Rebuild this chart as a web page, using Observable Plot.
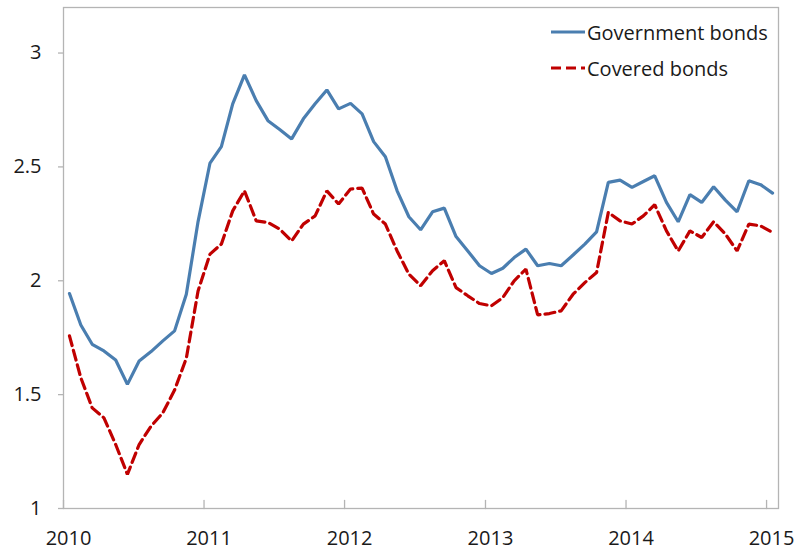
<!DOCTYPE html>
<html>
<head>
<meta charset="utf-8">
<script src="https://cdn.jsdelivr.net/npm/d3@7"></script>
<script src="https://cdn.jsdelivr.net/npm/@observablehq/plot@0.6"></script>
<style>
  html, body { margin: 0; padding: 0; background: #fff; }
  #wrap { position: relative; width: 798px; height: 550px; font-family: "Open Sans", sans-serif; }
  #legend { position: absolute; left: 551px; top: 14px; font-size: 20px; color: #1a1a1a; }
  .row { display: flex; align-items: center; height: 36px; }
  .row svg { margin-right: 2px; }
</style>
</head>
<body>
<div id="wrap"><div id="legend"></div></div>
<script>
// Monthly observations, Jan 2010 – Jan 2015
const startMonth = "2010-01";
const endMonth = "2015-02";
const series = ["Government bonds", "Covered bonds"];
const govBonds = [
  1.944, 1.806, 1.721, 1.692, 1.652, 1.545, 1.648, 1.689, 1.736, 1.780, 1.941, 2.260,
  2.517, 2.589, 2.777, 2.904, 2.791, 2.703, 2.664, 2.623, 2.711, 2.777, 2.838, 2.755,
  2.779, 2.733, 2.611, 2.545, 2.395, 2.281, 2.224, 2.303, 2.319, 2.194, 2.131, 2.066,
  2.032, 2.055, 2.102, 2.139, 2.066, 2.076, 2.066, 2.113, 2.161, 2.215, 2.432, 2.442,
  2.410, 2.436, 2.461, 2.344, 2.259, 2.378, 2.344, 2.413, 2.354, 2.303, 2.439, 2.422,
  2.385
];
const coveredBonds = [
  1.758, 1.574, 1.442, 1.398, 1.281, 1.150, 1.281, 1.362, 1.420, 1.520, 1.660, 1.955,
  2.117, 2.161, 2.307, 2.395, 2.263, 2.256, 2.227, 2.175, 2.249, 2.285, 2.395, 2.337,
  2.403, 2.407, 2.293, 2.249, 2.131, 2.029, 1.978, 2.044, 2.088, 1.970, 1.934, 1.900,
  1.890, 1.926, 2.000, 2.051, 1.850, 1.856, 1.868, 1.941, 1.992, 2.036, 2.300, 2.263,
  2.249, 2.285, 2.334, 2.219, 2.131, 2.219, 2.190, 2.259, 2.205, 2.131, 2.249, 2.241,
  2.212
];
const yTicks = [1, 1.5, 2, 2.5, 3];
const yDomain = [1, 3.2];
const xTickYears = ["2010", "2011", "2012", "2013", "2014", "2015"];

const parseMonth = d3.utcParse("%Y-%m");
const parseYear = d3.utcParse("%Y");
const months = d3.utcMonth.range(parseMonth(startMonth), parseMonth(endMonth));
const data = months.map((m, i) => ({ date: m, gov: govBonds[i], cov: coveredBonds[i] }));
const years = xTickYears.map(parseYear);
// Excel places each monthly point in the middle of its month
const mid = d => new Date((+d + +d3.utcMonth.offset(d, 1)) / 2);

const blue = "#4a7eb0";
const red = "#c00000";
const grey = "#b4b4b4";

const chart = Plot.plot({
  width: 798,
  height: 550,
  marginLeft: 63,
  marginTop: 7,
  marginRight: 20,
  marginBottom: 42,
  style: { fontFamily: "Open Sans, sans-serif", fontSize: "20px", color: "#1a1a1a", background: "#fff" },
  x: { type: "utc", domain: [parseMonth(startMonth), parseMonth(endMonth)] },
  y: { domain: yDomain },
  marks: [
    Plot.frame({ stroke: grey, strokeWidth: 1.3 }),
    Plot.axisY(yTicks, { tickSize: 5, tickPadding: 17, stroke: grey, strokeWidth: 1.3, tickFormat: d => String(d), label: null, fill: "#1a1a1a", fontSize: 20 }),
    Plot.axisX(years, { tickSize: 0, tickPadding: 22, dx: 5, tickFormat: d3.utcFormat("%Y"), label: null, fill: "#1a1a1a", fontSize: 20 }),
    Plot.vector(years, { x: d => d, y: yDomain[0], length: 8, rotate: 0, anchor: "start", stroke: grey, strokeWidth: 1.3,
      shape: { draw(context, l) { context.moveTo(0, 0); context.lineTo(0, -l); } } }),
    Plot.line(data, { x: d => mid(d.date), y: "gov", stroke: blue, strokeWidth: 3.2, strokeLinejoin: "miter" }),
    Plot.line(data, { x: d => mid(d.date), y: "cov", stroke: red, strokeWidth: 3.2, strokeDasharray: "10,5", strokeLinejoin: "miter" })
  ]
});
document.getElementById("wrap").prepend(chart);

const legend = document.getElementById("legend");
[[series[0], blue, null], [series[1], red, "10,5"]].forEach(([name, color, dash]) => {
  const row = document.createElement("div");
  row.className = "row";
  row.innerHTML = `<svg width="34" height="6"><line x1="0" y1="3" x2="34" y2="3" stroke="${color}" stroke-width="3.2" ${dash ? `stroke-dasharray="${dash}"` : ""}/></svg><span>${name}</span>`;
  legend.appendChild(row);
});
</script>
</body>
</html>
